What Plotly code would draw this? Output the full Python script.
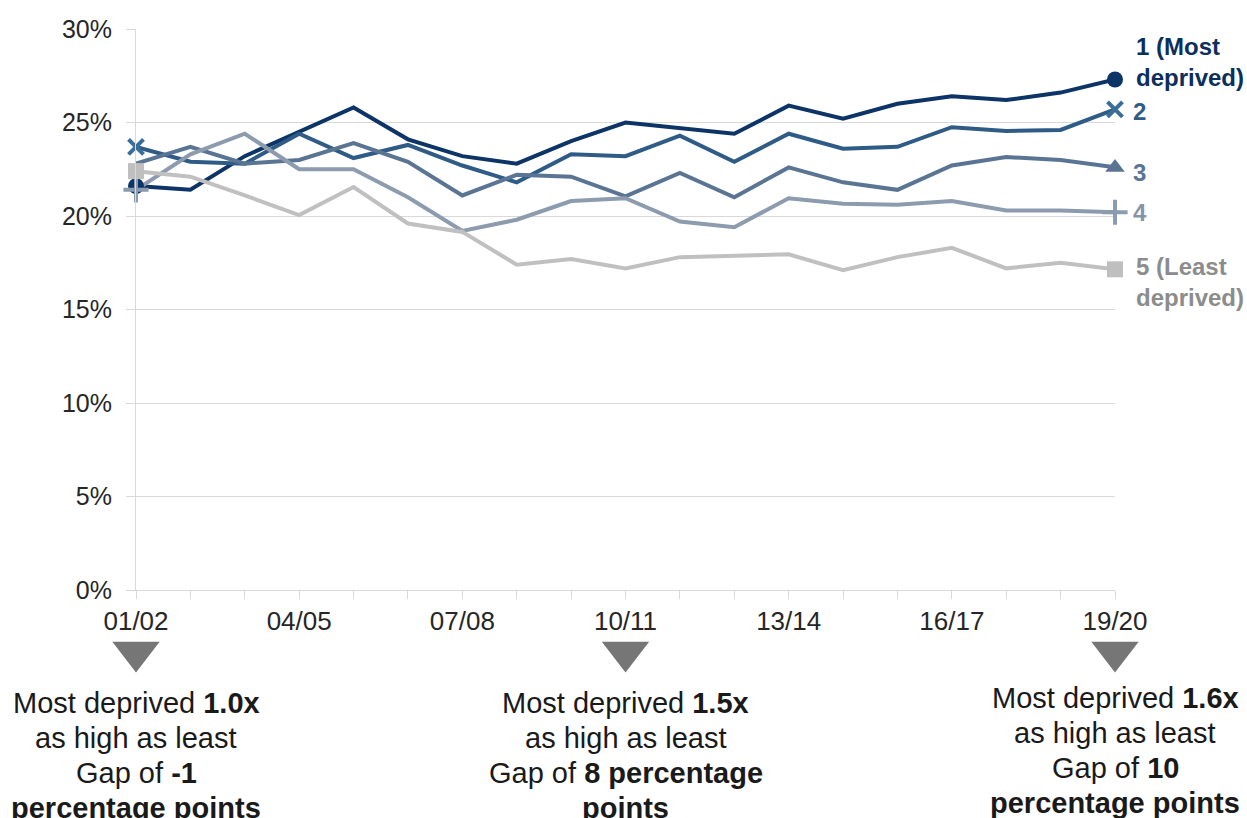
import plotly.graph_objects as go

# Financial years shown on the x axis
years = ["01/02", "02/03", "03/04", "04/05", "05/06", "06/07", "07/08", "08/09",
         "09/10", "10/11", "11/12", "12/13", "13/14", "14/15", "15/16", "16/17",
         "17/18", "18/19", "19/20"]
tick_labels = [y if i % 3 == 0 else "" for i, y in enumerate(years)]

# Percentage by deprivation quintile (1 = most deprived, 5 = least deprived)
q1 = [21.6, 21.4, 23.2, 24.5, 25.8, 24.1, 23.2, 22.8, 24.0, 25.0, 24.7, 24.4, 25.9, 25.2, 26.0, 26.4, 26.2, 26.6, 27.3]
q2 = [23.7, 22.9, 22.8, 24.4, 23.1, 23.8, 22.7, 21.8, 23.3, 23.2, 24.3, 22.9, 24.4, 23.6, 23.7, 24.75, 24.55, 24.6, 25.7]
q3 = [22.8, 23.7, 22.8, 23.0, 23.9, 22.9, 21.1, 22.2, 22.1, 21.05, 22.3, 21.0, 22.6, 21.8, 21.4, 22.7, 23.15, 23.0, 22.6]
q4 = [21.4, 23.3, 24.4, 22.5, 22.5, 21.0, 19.2, 19.8, 20.8, 20.95, 19.7, 19.4, 20.95, 20.65, 20.6, 20.8, 20.3, 20.3, 20.2]
q5 = [22.4, 22.1, 21.1, 20.05, 21.55, 19.6, 19.15, 17.4, 17.7, 17.2, 17.8, 17.85, 17.95, 17.1, 17.8, 18.3, 17.2, 17.5, 17.15]

series_names = ["1 (Most<br>deprived)", "2", "3", "4", "5 (Least<br>deprived)"]
line_colors = ["#0c3466", "#2f5b87", "#5a7594", "#8c9bae", "#c0c0c0"]
marker_colors = ["#0c3466", "#3a6e98", "#5a7594", "#8c9bae", "#bfbfbf"]
label_colors = ["#0c2f5c", "#2f5b87", "#5a7594", "#8595a9", "#8c8c8c"]
symbols = ["circle", "x-thin", "triangle-up", "cross-thin", "square"]
marker_sizes = [16, 15, 17, 18, 16]
label_dx = [19, 16, 16, 16, 19]
label_dy = [17, -2, -5, 0, -13]
start_marker = [True, True, False, True, True]

# Years that get a comparison note below the axis
note_years = ["01/02", "10/11", "19/20"]
note_lines = [
    ["Most deprived <b>1.0x</b>", "as high as least", "Gap of <b>-1</b>", "<b>percentage points</b>"],
    ["Most deprived <b>1.5x</b>", "as high as least", "Gap of <b>8 percentage</b>", "<b>points</b>"],
    ["Most deprived <b>1.6x</b>", "as high as least", "Gap of <b>10</b>", "<b>percentage points</b>"],
]
# vertical placement of the note block (screen pixels on the helper axis)
note_top = [703, 703, 698]
note_step = 35
pointer_y = 652

FONT = "Liberation Sans, Arial, sans-serif"
W, H = 1247, 818
TOP, PLOT_BOTTOM = 29, 590
fig = go.Figure()

data = [q1, q2, q3, q4, q5]
last = len(years) - 1
for k, vals in enumerate(data):
    fig.add_trace(go.Scatter(
        x=years, y=vals, mode="lines",
        line=dict(color=line_colors[k], width=4),
        hoverinfo="skip", showlegend=False, cliponaxis=False,
    ))
for k, vals in enumerate(data):
    idx = [0, last] if start_marker[k] else [last]
    thin = symbols[k].endswith("-thin")
    fig.add_trace(go.Scatter(
        x=[years[i] for i in idx], y=[vals[i] for i in idx], mode="markers",
        marker=dict(symbol=symbols[k], size=marker_sizes[k], color=marker_colors[k],
                    line=dict(color=marker_colors[k], width=4 if thin else 0)),
        hoverinfo="skip", showlegend=False, cliponaxis=False,
    ))
    fig.add_annotation(
        x=years[last], y=vals[last], text="<b>" + series_names[k] + "</b>",
        xanchor="left", yanchor="middle", align="left", showarrow=False,
        xshift=label_dx[k], yshift=label_dy[k],
        font=dict(family=FONT, size=24, color=label_colors[k]),
    )

# Helper axis under the chart, in screen-pixel units, for pointers and notes
plot_h = H - TOP
main_bottom = (H - PLOT_BOTTOM) / plot_h
helper_top = 0.27
fig.add_trace(go.Scatter(
    x=note_years, y=[pointer_y] * len(note_years), yaxis="y2", mode="markers",
    marker=dict(symbol="triangle-down", size=41, color="#767676"),
    hoverinfo="skip", showlegend=False, cliponaxis=False,
))
for yr, lines, top in zip(note_years, note_lines, note_top):
    for j, line in enumerate(lines):
        fig.add_annotation(
            x=yr, y=top + j * note_step, yref="y2", text=line, showarrow=False,
            xanchor="center", yanchor="middle", align="center",
            font=dict(family=FONT, size=29, color="#1a1a1a"),
        )

fig.update_layout(
    width=W, height=H,
    margin=dict(l=136, r=132, t=TOP, b=0, pad=0, autoexpand=False),
    paper_bgcolor="white", plot_bgcolor="white",
    font=dict(family=FONT),
    xaxis=dict(
        type="category", range=[0, last], anchor="y", automargin=False,
        tickmode="array", tickvals=years, ticktext=tick_labels,
        showgrid=False, showline=True, linecolor="#d9d9d9", linewidth=1,
        ticks="outside", ticklen=8, tickcolor="#d9d9d9", tickwidth=1,
        tickfont=dict(family=FONT, size=26, color="#262626"),
        zeroline=False,
    ),
    yaxis=dict(
        domain=[main_bottom, 1], anchor="x", automargin=False,
        range=[0, 30], tickvals=[0, 5, 10, 15, 20, 25, 30],
        ticktext=["0%", "5%", "10%", "15%", "20%", "25%", "30%"],
        showgrid=True, gridcolor="#d9d9d9", gridwidth=1,
        showline=True, linecolor="#d9d9d9", linewidth=1,
        ticks="outside", ticklen=9, tickcolor="#d9d9d9", tickwidth=1,
        ticklabelstandoff=9,
        tickfont=dict(family=FONT, size=25, color="#262626"),
        zeroline=False,
    ),
    yaxis2=dict(domain=[0, helper_top], range=[H, H - helper_top * plot_h],
                visible=False, anchor="x", automargin=False),
)

fig.write_html("out.html")
